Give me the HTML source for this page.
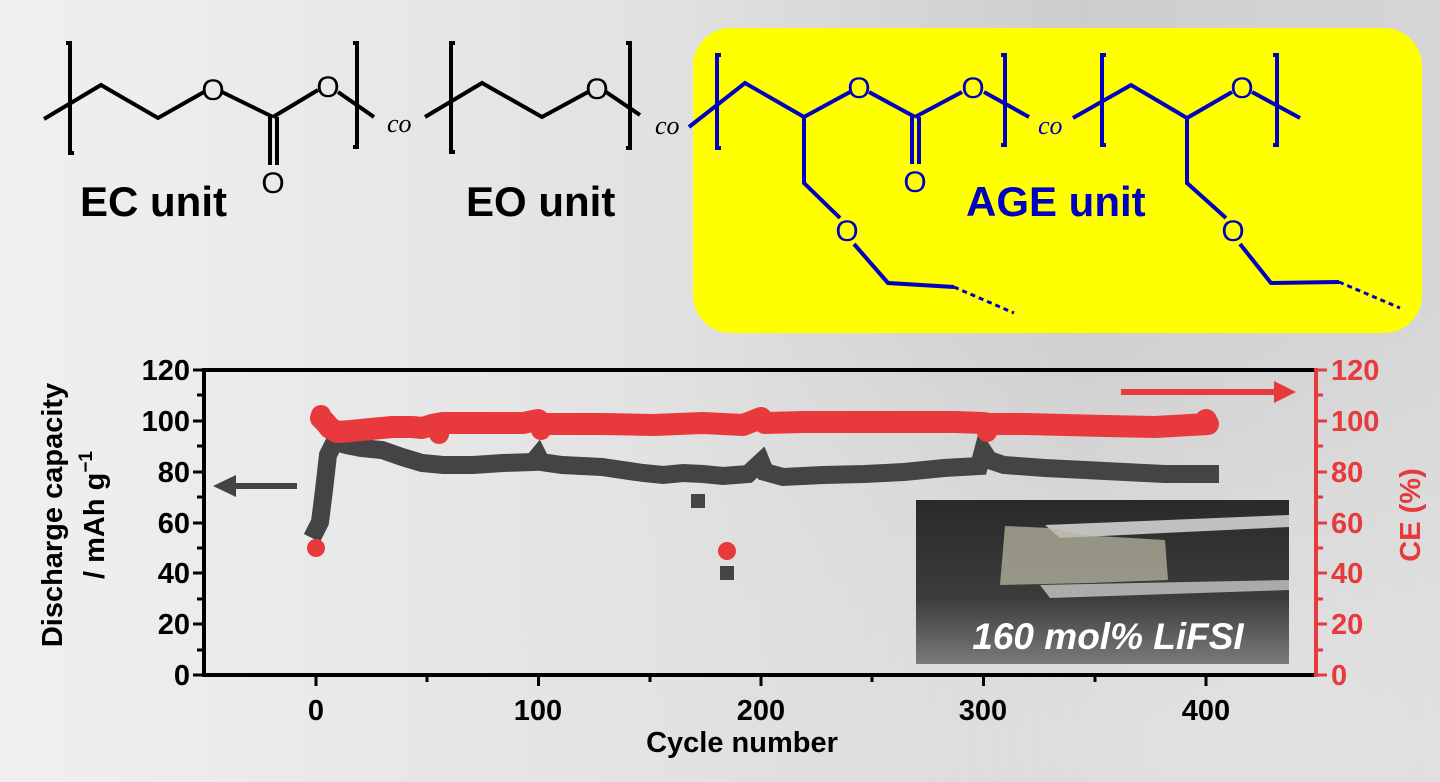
<!DOCTYPE html>
<html><head><meta charset="utf-8"><style>
html,body{margin:0;padding:0;width:1440px;height:782px;overflow:hidden}
body{background:linear-gradient(90deg,#f0f0f0 0%,#e2e2e2 45%,#cdcdcd 75%,#d6d6d6 100%)}
svg{position:absolute;left:0;top:0}
text{font-family:"Liberation Sans",Arial,sans-serif}
</style></head><body>
<svg width="1440" height="782" viewBox="0 0 1440 782">
<defs>
<radialGradient id="bg2" cx="0.85" cy="0.95" r="0.6">
<stop offset="0" stop-color="#e6e6e6" stop-opacity="0.8"/><stop offset="1" stop-color="#e6e6e6" stop-opacity="0"/></radialGradient>
<linearGradient id="ph" x1="0" y1="0" x2="0" y2="1"><stop offset="0" stop-color="#2a2a2a"/><stop offset="0.6" stop-color="#3c3c3c"/><stop offset="1" stop-color="#7a7a7a"/></linearGradient>
</defs>
<rect x="0" y="0" width="1440" height="782" fill="url(#bg2)"/>
<rect x="693" y="28" width="729" height="305" rx="38" fill="#ffff00"/>
<g stroke="#000" stroke-width="4" fill="none" stroke-linejoin="miter">
<polyline points="44,119 101,85 158,118 204,92"/>
<line x1="222" y1="92" x2="273" y2="117"/>
<line x1="273" y1="117" x2="318" y2="90"/>
<line x1="270" y1="117" x2="270" y2="165"/><line x1="277" y1="117" x2="277" y2="165"/>
<polyline points="338,92 374,117"/>
<polyline points="66,43 70,43 70,153 74,153" />
<polyline points="353,43 357,43 357,147 353,147"/>
<polyline points="425,117 482,83 542,117 588,92"/>
<polyline points="455,43 451,43 451,152 455,152"/>
<line x1="606" y1="92" x2="640" y2="115"/>
<polyline points="626,43 630,43 630,148 626,148"/>
</g>
<g font-size="30" fill="#000"><text x="213" y="100" text-anchor="middle">O</text><text x="328" y="97" text-anchor="middle">O</text><text x="273" y="193" text-anchor="middle">O</text><text x="597" y="99" text-anchor="middle">O</text></g>
<g font-style="italic" font-size="26" fill="#000"><text x="387" y="132" style="font-family:'Liberation Serif',serif">co</text><text x="655" y="134" style="font-family:'Liberation Serif',serif">co</text></g>
<text x="80" y="216" font-size="42" font-weight="bold" fill="#000">EC unit</text>
<text x="466" y="216" font-size="42" font-weight="bold" fill="#000">EO unit</text>
<g stroke="#0000c0" stroke-width="4" fill="none">
<polyline points="689,127 745,83 804,117 850,92"/>
<line x1="869" y1="92" x2="915" y2="117"/>
<line x1="915" y1="117" x2="962" y2="92"/>
<line x1="912" y1="117" x2="912" y2="164"/><line x1="919" y1="117" x2="919" y2="164"/>
<line x1="984" y1="92" x2="1029" y2="117"/>
<polyline points="721,55 717,55 717,148 721,148"/>
<polyline points="1001,55 1005,55 1005,145 1001,145"/>
<polyline points="1073,118 1131,85 1187,118 1232,92"/>
<polyline points="1106,55 1102,55 1102,145 1106,145"/>
<line x1="1252" y1="92" x2="1300" y2="118"/>
<polyline points="1273,55 1277,55 1277,145 1273,145"/>
<polyline points="804,117 804,183 840,218"/>
<polyline points="854,244 888,283 954,287"/>
<line x1="954" y1="287" x2="1014" y2="313" stroke-dasharray="5,4" stroke-width="3"/>
<polyline points="1187,118 1187,183 1226,218"/>
<polyline points="1240,244 1271,283 1339,282"/>
<line x1="1339" y1="282" x2="1400" y2="308" stroke-dasharray="5,4" stroke-width="3"/>
</g>
<g font-size="30" fill="#0000c0"><text x="859" y="98" text-anchor="middle">O</text><text x="973" y="98" text-anchor="middle">O</text><text x="915" y="192" text-anchor="middle">O</text><text x="1242" y="98" text-anchor="middle">O</text><text x="847" y="241" text-anchor="middle">O</text><text x="1233" y="241" text-anchor="middle">O</text></g>
<text x="1038" y="134" font-size="26" font-style="italic" fill="#0000c0" style="font-family:'Liberation Serif',serif">co</text>
<text x="966" y="216" font-size="42" font-weight="bold" fill="#0000c0">AGE unit</text>

<g stroke="#000" stroke-width="4" fill="none">
<line x1="204" y1="370" x2="1316" y2="370"/>
<line x1="204" y1="368" x2="204" y2="677"/>
<line x1="202" y1="675" x2="1316" y2="675"/>
</g>
<g stroke="#000" stroke-width="3">
<line x1="193" y1="675" x2="204" y2="675"/><line x1="193" y1="624" x2="204" y2="624"/><line x1="193" y1="573" x2="204" y2="573"/><line x1="193" y1="523" x2="204" y2="523"/><line x1="193" y1="472" x2="204" y2="472"/><line x1="193" y1="421" x2="204" y2="421"/><line x1="193" y1="370" x2="204" y2="370"/>
<line x1="197" y1="650" x2="204" y2="650"/><line x1="197" y1="599" x2="204" y2="599"/><line x1="197" y1="548" x2="204" y2="548"/><line x1="197" y1="497" x2="204" y2="497"/><line x1="197" y1="446" x2="204" y2="446"/><line x1="197" y1="395" x2="204" y2="395"/>
<line x1="316" y1="675" x2="316" y2="686"/><line x1="538.5" y1="675" x2="538.5" y2="686"/><line x1="761" y1="675" x2="761" y2="686"/><line x1="983.5" y1="675" x2="983.5" y2="686"/><line x1="1206" y1="675" x2="1206" y2="686"/>
<line x1="427" y1="675" x2="427" y2="682"/><line x1="650" y1="675" x2="650" y2="682"/><line x1="872" y1="675" x2="872" y2="682"/><line x1="1095" y1="675" x2="1095" y2="682"/>
</g>
<g font-size="29" font-weight="bold" fill="#000" text-anchor="end">
<text x="190" y="685">0</text><text x="190" y="634">20</text><text x="190" y="583">40</text><text x="190" y="533">60</text><text x="190" y="482">80</text><text x="190" y="431">100</text><text x="190" y="380">120</text>
</g>
<g font-size="29" font-weight="bold" fill="#000" text-anchor="middle">
<text x="316" y="720">0</text><text x="538" y="720">100</text><text x="761" y="720">200</text><text x="983" y="720">300</text><text x="1206" y="720">400</text>
<text x="742" y="752">Cycle number</text>
</g>
<g font-size="29" font-weight="bold" fill="#000" text-anchor="middle">
<text transform="translate(62,515) rotate(-90)">Discharge capacity</text>
<text transform="translate(104,515) rotate(-90)">/ mAh g<tspan font-size="19" dy="-12">−1</tspan></text>
</g>
<g stroke="#e8393c" stroke-width="4"><line x1="1316" y1="368" x2="1316" y2="677"/></g>
<g stroke="#e8393c" stroke-width="3">
<line x1="1316" y1="675" x2="1327" y2="675"/><line x1="1316" y1="624" x2="1327" y2="624"/><line x1="1316" y1="573" x2="1327" y2="573"/><line x1="1316" y1="523" x2="1327" y2="523"/><line x1="1316" y1="472" x2="1327" y2="472"/><line x1="1316" y1="421" x2="1327" y2="421"/><line x1="1316" y1="370" x2="1327" y2="370"/>
<line x1="1316" y1="650" x2="1323" y2="650"/><line x1="1316" y1="599" x2="1323" y2="599"/><line x1="1316" y1="548" x2="1323" y2="548"/><line x1="1316" y1="497" x2="1323" y2="497"/><line x1="1316" y1="446" x2="1323" y2="446"/><line x1="1316" y1="395" x2="1323" y2="395"/>
</g>
<g font-size="29" font-weight="bold" fill="#e8393c">
<text x="1331" y="685">0</text><text x="1331" y="634">20</text><text x="1331" y="583">40</text><text x="1331" y="533">60</text><text x="1331" y="482">80</text><text x="1331" y="431">100</text><text x="1331" y="380">120</text>
<text transform="translate(1420,515) rotate(-90)" text-anchor="middle">CE (%)</text>
</g>
<line x1="297" y1="486" x2="232" y2="486" stroke="#444" stroke-width="6"/>
<polygon points="213,486 236,475 236,497" fill="#444"/>
<line x1="1121" y1="392" x2="1280" y2="392" stroke="#e8393c" stroke-width="6"/>
<polygon points="1296,392 1274,381 1274,403" fill="#e8393c"/>
<rect x="916" y="500" width="373" height="164" fill="url(#ph)"/>
<path d="M1045,525 L1289,515 L1289,527 L1060,538 Z" fill="#d0d0d0" opacity="0.9"/>
<path d="M1040,585 L1289,580 L1289,590 L1050,598 Z" fill="#b8b8b8" opacity="0.9"/>
<path d="M1005,526 L1050,528 L1080,535 L1165,540 L1168,580 L1090,583 L1000,585 Z" fill="#b8b5a0" opacity="0.75"/>
<text x="1108" y="649" font-size="37" font-weight="bold" font-style="italic" fill="#fff" text-anchor="middle">160 mol% LiFSI</text>
<polyline fill="none" stroke="#444" stroke-width="18" stroke-linejoin="miter" stroke-linecap="square" points="316,530 320,522 324,490 328,455 333,445 339,443 346,445 361,448 382,450 402,457 422,463 443,465 473,465 503,463 533,462 538,456 541,462 562,465 602,467 643,473 663,475 683,473 703,474 723,476 748,474 761,462 765,472 783,477 823,475 864,474 904,472 944,468 979,466 983,451 989,460 1004,465 1045,468 1085,470 1125,472 1165,474 1210,474"/>
<rect x="691" y="494" width="14" height="14" fill="#444"/>
<rect x="720" y="566" width="14" height="14" fill="#444"/>
<polyline fill="none" stroke="#e8393c" stroke-width="22" stroke-linecap="round" stroke-linejoin="round" points="321,418 325,422 330,428 337,432 351,431 371,429 392,427 412,427 422,428 432,425 443,423 483,423 523,423 538,420 541,427 546,424 602,424 653,425 703,423 743,425 761,418 765,423 804,422 854,422 904,422 955,422 983,423 989,424 1025,424 1065,425 1105,426 1155,427 1208,424"/>
<circle cx="439" cy="434" r="10" fill="#e8393c"/>
<circle cx="541" cy="430" r="10" fill="#e8393c"/>
<circle cx="987" cy="432" r="10" fill="#e8393c"/>
<circle cx="1206" cy="420" r="11" fill="#e8393c"/>
<circle cx="321" cy="415" r="10" fill="#e8393c"/>
<circle cx="316" cy="548" r="9" fill="#e8393c"/>
<circle cx="727" cy="551" r="9" fill="#e8393c"/>
</svg>
</body></html>
